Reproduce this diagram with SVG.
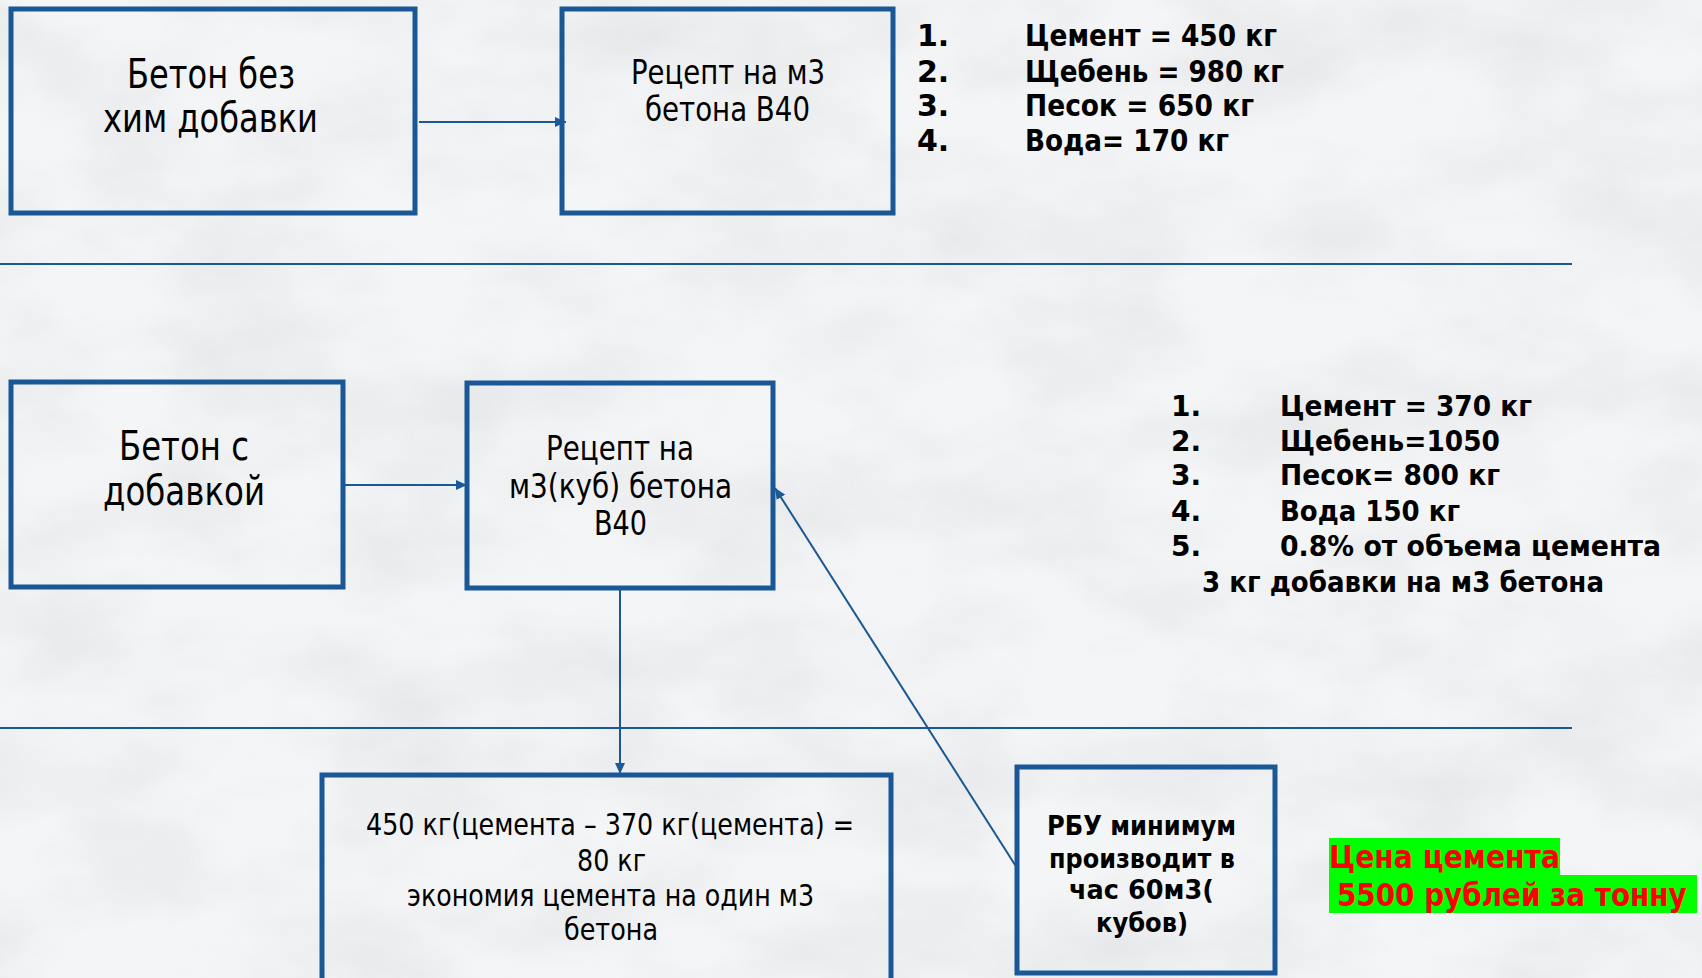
<svg xmlns="http://www.w3.org/2000/svg" width="1702" height="978" viewBox="0 0 1702 978">
<defs>
<filter id="marble" x="0" y="0" width="100%" height="100%">
<feTurbulence type="fractalNoise" baseFrequency="0.006 0.011" numOctaves="4" seed="7" result="n"/>
<feColorMatrix type="matrix" values="0 0 0 0 0.55  0 0 0 0 0.56  0 0 0 0 0.58  0 0 0 -1.6 1.05" in="n"/>
</filter>
<marker id="ah" markerUnits="userSpaceOnUse" markerWidth="12" markerHeight="10" refX="11" refY="5" orient="auto">
<path d="M0,0 L11,5 L0,10 Z" fill="#1B5A98"/>
</marker>
<style>
.box{fill:none;stroke:#1A5796;stroke-width:5}
.ln{stroke:#1A5796;stroke-width:2;fill:none}
.r{font-family:"DejaVu Sans","Liberation Sans",sans-serif;fill:#000}
.b{font-family:"DejaVu Sans","Liberation Sans",sans-serif;font-weight:bold;fill:#000}
.red{font-family:"DejaVu Sans","Liberation Sans",sans-serif;font-weight:bold;fill:#FF0000}
</style>
</defs>
<rect width="1702" height="978" fill="#f4f5f7"/>
<rect width="1702" height="978" filter="url(#marble)" opacity="0.3"/>
<g id="separators">
<line class="ln" x1="0" y1="264" x2="1572" y2="264"/>
<line class="ln" x1="0" y1="728" x2="1572" y2="728"/>
</g>
<g id="connectors">
<line class="ln" x1="419" y1="122" x2="566" y2="122" marker-end="url(#ah)"/>
<line class="ln" x1="343" y1="485" x2="467" y2="485" marker-end="url(#ah)"/>
<line class="ln" x1="620" y1="588" x2="620" y2="774" marker-end="url(#ah)"/>
<line class="ln" x1="1017" y1="868" x2="775" y2="488" marker-end="url(#ah)"/>
</g>
<g id="node-beton-bez">
<rect class="box" x="11" y="9" width="404" height="204"/>
<text class="r" font-size="40" x="127" y="88" textLength="168" lengthAdjust="spacingAndGlyphs">Бетон без</text>
<text class="r" font-size="40" x="103" y="132" textLength="215" lengthAdjust="spacingAndGlyphs">хим добавки</text>
</g>
<g id="node-recept-1">
<rect class="box" x="562" y="9" width="331" height="204"/>
<text class="r" font-size="33" x="631" y="84" textLength="194" lengthAdjust="spacingAndGlyphs">Рецепт на м3</text>
<text class="r" font-size="33" x="645" y="121" textLength="165" lengthAdjust="spacingAndGlyphs">бетона В40</text>
</g>
<g id="list-1">
<text class="b" font-size="30" x="917" y="46">1.</text>
<text class="b" font-size="30" x="917" y="82">2.</text>
<text class="b" font-size="30" x="917" y="116">3.</text>
<text class="b" font-size="30" x="917" y="151">4.</text>
<text class="b" font-size="30" x="1025" y="46" textLength="252" lengthAdjust="spacingAndGlyphs">Цемент = 450 кг</text>
<text class="b" font-size="30" x="1025" y="82" textLength="259" lengthAdjust="spacingAndGlyphs">Щебень = 980 кг</text>
<text class="b" font-size="30" x="1025" y="116" textLength="229" lengthAdjust="spacingAndGlyphs">Песок = 650 кг</text>
<text class="b" font-size="30" x="1025" y="151" textLength="204" lengthAdjust="spacingAndGlyphs">Вода= 170 кг</text>
</g>
<g id="node-beton-s">
<rect class="box" x="11" y="382" width="332" height="205"/>
<text class="r" font-size="40" x="119" y="460" textLength="130" lengthAdjust="spacingAndGlyphs">Бетон с</text>
<text class="r" font-size="40" x="103" y="505" textLength="162" lengthAdjust="spacingAndGlyphs">добавкой</text>
</g>
<g id="node-recept-2">
<rect class="box" x="467" y="383" width="306" height="205"/>
<text class="r" font-size="33" x="546" y="460" textLength="148" lengthAdjust="spacingAndGlyphs">Рецепт на</text>
<text class="r" font-size="33" x="509" y="498" textLength="223" lengthAdjust="spacingAndGlyphs">м3(куб) бетона</text>
<text class="r" font-size="33" x="594" y="535" textLength="53" lengthAdjust="spacingAndGlyphs">В40</text>
</g>
<g id="list-2">
<text class="b" font-size="28" x="1171" y="416">1.</text>
<text class="b" font-size="28" x="1171" y="451">2.</text>
<text class="b" font-size="28" x="1171" y="485">3.</text>
<text class="b" font-size="28" x="1171" y="521">4.</text>
<text class="b" font-size="28" x="1171" y="556">5.</text>
<text class="b" font-size="28" x="1280" y="416" textLength="252" lengthAdjust="spacingAndGlyphs">Цемент = 370 кг</text>
<text class="b" font-size="28" x="1280" y="451" textLength="220" lengthAdjust="spacingAndGlyphs">Щебень=1050</text>
<text class="b" font-size="28" x="1280" y="485" textLength="220" lengthAdjust="spacingAndGlyphs">Песок= 800 кг</text>
<text class="b" font-size="28" x="1280" y="521" textLength="180" lengthAdjust="spacingAndGlyphs">Вода 150 кг</text>
<text class="b" font-size="28" x="1280" y="556" textLength="381" lengthAdjust="spacingAndGlyphs">0.8% от объема цемента</text>
<text class="b" font-size="28" x="1202" y="592" textLength="402" lengthAdjust="spacingAndGlyphs">3 кг добавки на м3 бетона</text>
</g>
<g id="node-economy">
<rect class="box" x="322" y="775" width="569" height="215"/>
<text class="r" font-size="30" x="366" y="835" textLength="488" lengthAdjust="spacingAndGlyphs">450 кг(цемента – 370 кг(цемента) =</text>
<text class="r" font-size="30" x="577" y="871" textLength="69" lengthAdjust="spacingAndGlyphs">80 кг</text>
<text class="r" font-size="30" x="407" y="906" textLength="407" lengthAdjust="spacingAndGlyphs">экономия цемента на один м3</text>
<text class="r" font-size="30" x="564" y="940" textLength="94" lengthAdjust="spacingAndGlyphs">бетона</text>
</g>
<g id="node-rbu">
<rect class="box" x="1017" y="767" width="258" height="206"/>
<text class="b" font-size="26" x="1047" y="835" textLength="189" lengthAdjust="spacingAndGlyphs">РБУ минимум</text>
<text class="b" font-size="26" x="1049" y="868" textLength="186" lengthAdjust="spacingAndGlyphs">производит в</text>
<text class="b" font-size="26" x="1069" y="899" textLength="145" lengthAdjust="spacingAndGlyphs">час  60м3(</text>
<text class="b" font-size="26" x="1096" y="932" textLength="92" lengthAdjust="spacingAndGlyphs">кубов)</text>
</g>
<g id="price">
<rect x="1329" y="838" width="231" height="37" fill="#00FF00"/>
<rect x="1329" y="875" width="368" height="38" fill="#00FF00"/>
<text class="red" font-size="32" x="1329" y="868" textLength="231" lengthAdjust="spacingAndGlyphs">Цена цемента</text>
<text class="red" font-size="32" transform="translate(1337,906) scale(0.87,1)" x="0" y="0">5500 рублей за тонну</text>
</g>
</svg>
